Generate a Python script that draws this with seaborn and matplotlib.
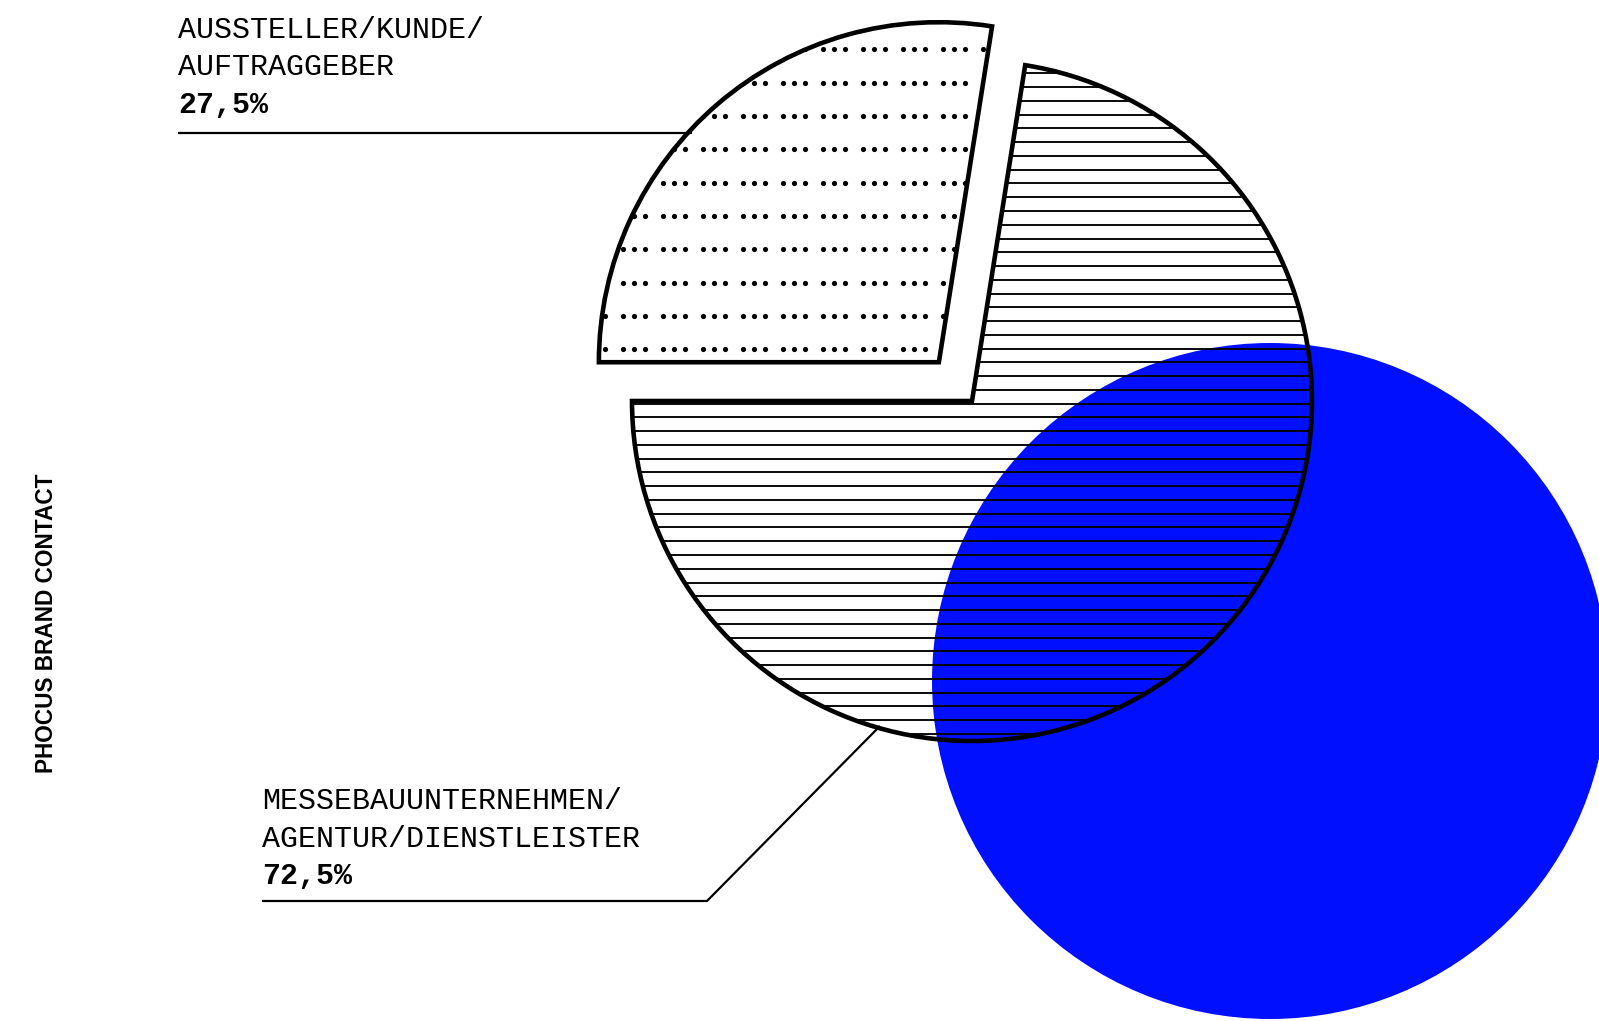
import numpy as np
import matplotlib
matplotlib.use("Agg")
import matplotlib.pyplot as plt
import seaborn as sns
from matplotlib.patches import Circle

# ---- data ----
categories = ["AUSSTELLER/KUNDE/\nAUFTRAGGEBER", "MESSEBAUUNTERNEHMEN/\nAGENTUR/DIENSTLEISTER"]
shares = [27.5, 72.5]
share_labels = ["27,5%", "72,5%"]
side_title = "PHOCUS BRAND CONTACT"

W, H = 1599, 1021
sns.set_theme(style="white")
plt.rcParams["font.family"] = ["Liberation Mono", "DejaVu Sans Mono"]

fig = plt.figure(figsize=(W / 100, H / 100), dpi=100)
fig.patch.set_facecolor("white")
ax = fig.add_axes([0, 0, 1, 1])


def Y(yp):
    return H - np.asarray(yp, dtype=float)


# decorative blue disc
ax.add_patch(Circle((1270, float(Y(681))), 338, facecolor="#0010ff", edgecolor="none", zorder=0))

center = (972, float(Y(401)))
R = 340
wedges, _ = ax.pie(
    shares, startangle=81, counterclock=True, explode=[51, 0],
    center=center, radius=R, frame=True,
    wedgeprops=dict(facecolor="none", edgecolor="black", linewidth=3.3,
                    joinstyle="miter", zorder=4),
)

# horizontal-line pattern on large slice
ys = 307.3 + 13.76 * np.arange(-25, 40)
lc = ax.hlines(Y(ys), 550, 1400, colors="black", linewidth=1.35, zorder=2)
lc.set_clip_path(wedges[1])

# dotted pattern (groups of three) on the exploded slice
rows = 49.3 + 33.33 * np.arange(0, 11)
base = 623.3 + 40 * np.arange(-3, 10)
xs = np.concatenate([base, base + 10.8, base + 21.7])
gx, gy = np.meshgrid(xs, rows)
sc = ax.scatter(gx.ravel(), Y(gy.ravel()), s=14, color="black", linewidths=0, zorder=2)
sc.set_clip_path(wedges[0])

# leader lines
ax.plot([178, 692], Y([133, 133]), color="black", lw=1.6, zorder=3, solid_capstyle="butt")
ax.plot([262, 707, 880], Y([901, 901, 726]), color="black", lw=1.6, zorder=3,
        solid_capstyle="butt", solid_joinstyle="miter")

# labels
label_pos = [(178, [38, 75], 113), (262, [809, 847], 884)]
for cat, pct, (x0, bls, pbl) in zip(categories, share_labels, label_pos):
    for line, bl in zip(cat.split("\n"), bls):
        ax.text(x0, Y(bl), line, fontsize=21.6, color="black", va="baseline", ha="left")
    ax.text(x0, Y(pbl), pct, fontsize=21.6, fontweight="bold", color="black",
            va="baseline", ha="left")

ax.text(47, Y(623), side_title, rotation=90, ha="center", va="center",
        fontsize=16.3, fontweight="bold", color="black",
        family=["Liberation Sans", "DejaVu Sans"])

ax.set_xlim(0, W)
ax.set_ylim(0, H)
ax.set_aspect("equal")
ax.axis("off")
fig.savefig("out.png", dpi=100, facecolor="white")
